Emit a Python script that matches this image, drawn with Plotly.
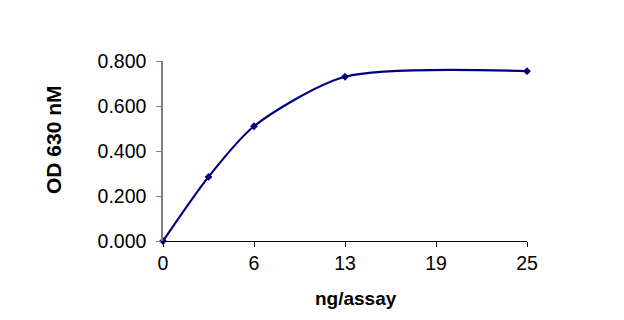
import plotly.graph_objects as go

x_vals = [0, 3.125, 6.25, 12.5, 25]
y_vals = [0.0, 0.285, 0.51, 0.73, 0.755]
x_tickvals = [0, 6.25, 12.5, 18.75, 25]
x_ticktext = ["0", "6", "13", "19", "25"]
y_tickvals = [0, 0.2, 0.4, 0.6, 0.8]
y_ticktext = ["0.000", "0.200", "0.400", "0.600", "0.800"]

W, H = 624, 320
L, R, T, B = 163, 97, 61, 79

fig = go.Figure()
fig.add_trace(go.Scatter(
    x=x_vals, y=y_vals, mode="lines+markers",
    line=dict(color="#000080", width=2.2, shape="spline", smoothing=0.75),
    marker=dict(symbol="diamond", size=6, color="#000080"),
    cliponaxis=False, showlegend=False,
))

font_family = "Liberation Sans, Arial, sans-serif"
fig.update_layout(
    width=W, height=H,
    margin=dict(l=L, r=R, t=T, b=B),
    paper_bgcolor="white", plot_bgcolor="white",
    font=dict(family=font_family, size=19.5, color="black"),
    xaxis=dict(range=[0, 25], tickvals=x_tickvals, ticktext=x_ticktext,
               showgrid=False, zeroline=False, showline=True, linecolor="black",
               linewidth=1, ticks="outside", ticklen=5, tickcolor="black",
               tickfont=dict(size=19.5)),
    yaxis=dict(range=[0, 0.8], tickvals=y_tickvals, ticktext=y_ticktext,
               showgrid=False, zeroline=False, showline=True, linecolor="#808080",
               linewidth=1.5, ticks="outside", ticklen=5, tickcolor="#808080",
               tickfont=dict(size=19.5), ticklabelstandoff=6),
    annotations=[
        dict(text="<b>ng/assay</b>", xref="paper", yref="paper",
             x=(356 - L) / (W - L - R), y=-(298 - (H - B)) / (H - T - B),
             showarrow=False, font=dict(size=19), xanchor="center", yanchor="middle"),
        dict(text="<b>OD 630 nM</b>", xref="paper", yref="paper",
             x=(53 - L) / (W - L - R), y=((H - B) - 140) / (H - T - B),
             showarrow=False, font=dict(size=21), textangle=-90,
             xanchor="center", yanchor="middle"),
    ],
)

fig.write_html("out.html")
